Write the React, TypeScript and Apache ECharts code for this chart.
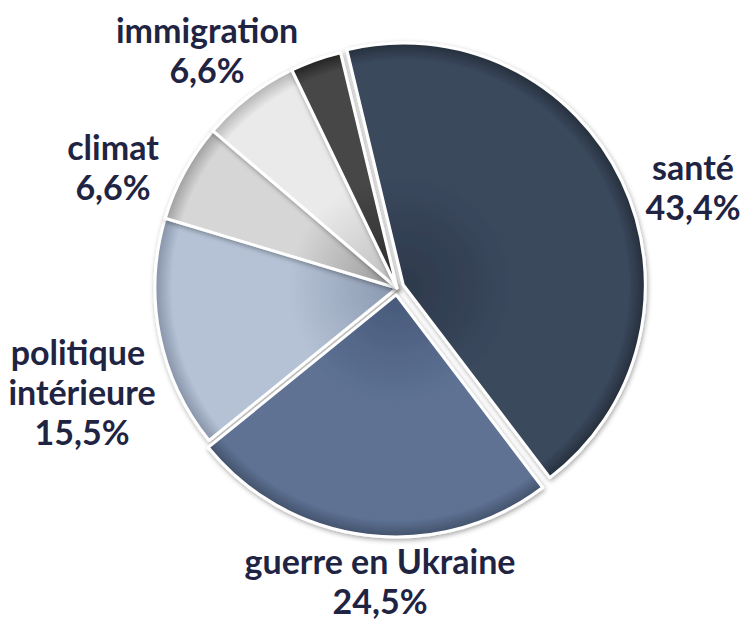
import React, { useEffect, useRef } from "react";
import * as echarts from "echarts";

// ---- data ----
const categories = ["santé", "guerre en Ukraine", "politique intérieure", "climat", "immigration", "autre"];
const values = [43.4, 24.5, 15.5, 6.6, 6.6, 3.4];
const exploded = [true, true, false, false, false, false];
const labelled = [true, true, true, true, true, false];

// ---- layout / style ----
const CX = 397;
const CY = 288;
const R = 242;
const START = 103.5;
const EXPLODE = 7;
const palette = [
  { inner: "#2d394c", base: "#3a485d", rim: "#252e3b" },
  { inner: "#47597a", base: "#5e7294", rim: "#42516a" },
  { inner: "#8a98b0", base: "#b5c2d5", rim: "#8592a7" },
  { inner: "#979797", base: "#d6d6d6", rim: "#9e9e9e" },
  { inner: "#bcbcbc", base: "#eaeaea", rim: "#b3b3b3" },
  { inner: "#2b2b2b", base: "#474747", rim: "#222222" },
];
const labelPlace: number[][] = [
  [693, 186],
  [380, 580],
  [82, 391],
  [113, 166],
  [207, 49],
  [0, 0],
];
const TEXT_COLOR = "#1f2443";

function fill(i: number, cx: number, cy: number) {
  const p = palette[i];
  return {
    type: "radial",
    x: cx,
    y: cy,
    r: R,
    global: true,
    colorStops: [
      { offset: 0, color: p.inner },
      { offset: 0.45, color: p.base },
      { offset: 0.93, color: p.base },
      { offset: 1, color: p.rim },
    ],
  };
}

// mid angle (degrees, ECharts convention: counterclockwise from 3 o'clock) of slice i
function midAngle(i: number) {
  const total = values.reduce((a, b) => a + b, 0);
  let before = 0;
  for (let k = 0; k < i; k++) before += values[k];
  return START - ((before + values[i] / 2) / total) * 360;
}

export default function App() {
  const ref = useRef<HTMLDivElement>(null);
  useEffect(() => {
    if (!ref.current) return;
    const chart = echarts.init(ref.current, null, { renderer: "svg" });

    const makeSeries = (visible: (i: number) => boolean, cx: number, cy: number) => ({
      type: "pie",
      center: [cx, cy],
      radius: [0, R],
      startAngle: START,
      clockwise: true,
      avoidLabelOverlap: false,
      silent: true,
      emphasis: { disabled: true },
      label: {
        position: "outside",
        fontFamily: "Lato",
        fontWeight: "bold",
        fontSize: 34,
        lineHeight: 40,
        color: TEXT_COLOR,
        align: "center",
        formatter: (p: any) =>
          p.name + "\n" + p.percent.toFixed(1).replace(".", ",") + "%",
      },
      labelLine: { show: false },
      labelLayout: (params: any) => {
        const pos = labelPlace[params.dataIndex];
        return { x: pos[0], y: pos[1], align: "center", verticalAlign: "middle" };
      },
      data: categories.map((name, i) => {
        const vis = visible(i);
        return {
          name,
          value: values[i],
          itemStyle: vis
            ? {
                color: fill(i, cx, cy),
                borderColor: "#ffffff",
                borderWidth: 3,
                shadowBlur: 5,
                shadowColor: "rgba(0,0,0,0.35)",
                shadowOffsetX: 1,
                shadowOffsetY: 2,
              }
            : { color: "rgba(0,0,0,0)", borderWidth: 0, shadowBlur: 0, shadowColor: "rgba(0,0,0,0)" },
          label: {
            show: vis && labelled[i],
            width: i === 2 ? 200 : undefined,
            overflow: i === 2 ? "break" : "none",
          },
        };
      }),
    });

    const series: any[] = [makeSeries((i) => !exploded[i], CX, CY)];
    exploded.forEach((ex, j) => {
      if (!ex) return;
      const a = (midAngle(j) * Math.PI) / 180;
      const cx = CX + EXPLODE * Math.cos(a);
      const cy = CY - EXPLODE * Math.sin(a);
      series.push(makeSeries((i) => i === j, cx, cy));
    });

    chart.setOption({
      animation: false,
      backgroundColor: "#ffffff",
      series,
    });
    return () => chart.dispose();
  }, []);
  return (
    <div
      ref={ref}
      style={{ position: "absolute", left: 0, top: 0, width: 742, height: 621, background: "#fff" }}
    />
  );
}
